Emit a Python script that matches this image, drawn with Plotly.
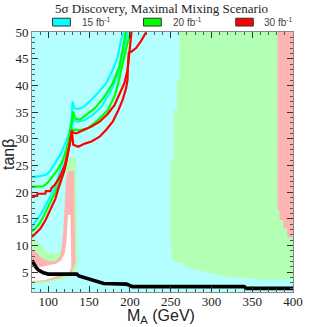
import plotly.graph_objects as go

# ---------------- data ----------------
# discovery contours (M_A in GeV, tan beta)
cyan1_m = [80, 90.3, 97.6, 102.4, 108.5, 115.7, 121.8, 126.2, 128.2, 129.3, 129.9, 131.8, 136.7, 142.7, 150.8, 160.9, 171, 179, 185.1, 189.2, 193.2]
cyan1_t = [22.8, 23.0, 23.3, 24.0, 25.5, 27.3, 29.5, 31.4, 33.2, 35.5, 37.0, 35.7, 35.6, 35.9, 37.0, 38.6, 40.4, 42.9, 45.4, 48.6, 50.0]
cyan2_m = [80, 84.2, 90.3, 96.3, 102.4, 108.5, 112.4, 116.6, 120.6, 124.2, 127.5, 129.0, 130.6, 136.7, 144.8, 154.8, 165, 175, 183.1, 189.2, 193.2, 197.5]
cyan2_t = [13.4, 14.5, 15.7, 17.3, 19.2, 21.0, 22.9, 24.8, 26.7, 28.9, 30.7, 32.3, 33.5, 33.2, 33.5, 34.5, 36.0, 38.5, 41.1, 44.2, 47.3, 50.0]

green1_m = [80, 94, 100, 110.3, 116.3, 120.6, 124.2, 127.3, 129.2, 130.5, 132.7, 138.7, 146.8, 156.9, 169, 179, 187.1, 191.1, 195.3]
green1_t = [21.0, 21.1, 21.9, 24.0, 25.5, 27.2, 29.2, 31.6, 33.6, 35.1, 33.8, 33.6, 34.5, 35.7, 37.9, 40.4, 43.5, 46.7, 50.0]
green2_m = [80, 88.2, 94.3, 100.2, 106.3, 112.3, 117.3, 120.9, 123.8, 126.6, 128.2, 130.6, 138.7, 148.8, 160.9, 173, 181.1, 185.1, 189.2, 193.2, 197.2, 201]
green2_t = [12.6, 13.9, 15.5, 17.3, 19.3, 21.4, 23.2, 25.2, 27.2, 29.5, 31.3, 31.7, 31.6, 32.0, 33.5, 35.4, 37.9, 40.0, 42.8, 45.5, 48.0, 50.0]

red1_m = [80, 86.3, 86.8, 96.3, 97.0, 102.4, 104, 108, 112.1, 116.1, 120.2, 123.3, 126.2, 128.2, 129.1, 130.2, 134.2, 142.7, 152.9, 162.9, 173, 181.1, 187.1, 193.2, 197.2, 199.5, 202]
red1_t = [19.3, 19.3, 19.7, 19.7, 20.2, 20.2, 20.8, 21.4, 22.3, 23.5, 25.1, 27.0, 28.9, 30.7, 31.3, 31.2, 31.0, 31.6, 32.3, 33.2, 34.7, 36.3, 38.2, 40.4, 42.9, 46.0, 50.0]
red2_m = [80, 85, 90.3, 96.3, 102.4, 108.5, 112.4, 116.6, 119.7, 122.6, 124.6, 126.6, 128.2, 128.7, 129.4, 130.6, 136.7, 144.8, 152.9, 162.9, 171, 179, 185.1, 191.1, 195.3, 197.2, 197.4, 198, 198.6, 201.6, 207.6, 213.6, 219.7]
red2_t = [11.6, 12.3, 13.2, 14.7, 16.6, 18.7, 20.7, 22.6, 24.0, 26.0, 27.5, 29.3, 30.8, 31.6, 30.0, 28.9, 28.5, 29.1, 29.5, 30.4, 31.7, 33.2, 35.1, 37.3, 39.4, 41.1, 42.9, 44.6, 46.1, 46.3, 47.0, 48.3, 49.9]

# LEP-type exclusion (black line)
lep_m = [80, 82, 84.5, 88, 94, 100, 135, 137.5, 143.5, 150, 156, 162, 168, 196, 200, 203, 340, 343, 400]
lep_t = [7.2, 6.6, 6.0, 5.4, 4.9, 4.65, 4.65, 4.3, 4.0, 3.65, 3.4, 3.2, 2.9, 2.78, 2.6, 2.3, 2.3, 1.97, 1.97]

# filled regions: 20 fb-1 (green) and 30 fb-1 (pink) needed, white = not reached
greenR_m = [261, 261, 257.5, 257.5, 253.7, 253.7, 250, 250, 251.5, 254, 260, 266, 268.3, 275.5, 284, 300, 320, 357, 359, 381, 393, 400, 400]
greenR_t = [50, 41, 41, 35.4, 35.4, 26, 26, 11, 8, 7, 6.8, 6.6, 6.0, 5.7, 5.4, 4.8, 4.1, 3.8, 3.5, 3.5, 3.6, 3.8, 50]
pinkR_m = [381, 381, 383.5, 383.5, 388.5, 388.5, 393, 393, 400, 400]
pinkR_t = [50, 16.6, 16.6, 14.8, 14.8, 13.2, 13.2, 11.5, 11.5, 50]

greenL_m = [80, 85.4, 90.3, 96.3, 104.8, 112.1, 116.9, 119.3, 120.5, 121.2, 121.8, 123, 126.6, 131.5, 133.9, 134.5, 135.7, 136.3, 133.9, 120.6, 102.4, 90.3, 80]
greenL_t = [11.41, 11.03, 10.09, 9.15, 8.4, 8.59, 9.53, 11.41, 14.78, 19.47, 24.16, 26.04, 26.6, 26.6, 25.67, 18.54, 11.03, 6.9, 5.03, 3.71, 3.15, 2.78, 2.78]
pinkL_m = [80, 85.8, 89.9, 96, 104, 110, 114.1, 116.1, 118.1, 119.3, 120.2, 121.8, 124.2, 131.5, 132.1, 132.7, 133.3, 129, 114.5, 96.3, 80]
pinkL_t = [9.15, 8.65, 7.9, 7.28, 6.96, 7.15, 7.9, 9.15, 12.34, 16.1, 18.54, 22.29, 23.98, 23.98, 16.66, 10.09, 6.9, 5.03, 3.9, 3.34, 3.15]
whiteL_m = [80, 91.9, 102, 110, 116.1, 120.2, 122.1, 123, 124.2, 127.2, 128.2, 128.2, 126.2, 114.5, 96.3, 80]
whiteL_t = [5.97, 6.02, 6.34, 6.66, 7.28, 8.54, 10.41, 12.91, 15.72, 15.72, 9.15, 6.02, 5.08, 4.46, 3.53, 3.34]

x_ticks = [100, 150, 200, 250, 300, 350, 400]
y_ticks = [5, 10, 15, 20, 25, 30, 35, 40, 45, 50]
legend_labels = ["15 fb<sup>-1</sup>", "20 fb<sup>-1</sup>", "30 fb<sup>-1</sup>"]

# ---------------- styles ----------------
BG_CYAN = "#b3ffff"
FILL_GREEN = "#b3ffb3"
FILL_PINK = "#ffb3b3"
C_CYAN, C_GREEN, C_RED = "#00ffff", "#00ff00", "#ff0000"

fig = go.Figure()

def region(m, t, color):
    fig.add_trace(go.Scatter(x=m, y=t, mode="lines", fill="toself", fillcolor=color,
                             line=dict(width=0, color=color), hoverinfo="skip", showlegend=False))

region(greenR_m, greenR_t, FILL_GREEN)
region(pinkR_m, pinkR_t, FILL_PINK)
region(greenL_m, greenL_t, FILL_GREEN)
region(pinkL_m, pinkL_t, FILL_PINK)
region(whiteL_m, whiteL_t, "#ffffff")

def line(m, t, color, w=2.2):
    fig.add_trace(go.Scatter(x=m, y=t, mode="lines", line=dict(color=color, width=w),
                             hoverinfo="skip", showlegend=False))

line(cyan1_m, cyan1_t, C_CYAN)
line(cyan2_m, cyan2_t, C_CYAN)
line(green1_m, green1_t, C_GREEN)
line(green2_m, green2_t, C_GREEN)
line(red1_m, red1_t, C_RED)
line(red2_m, red2_t, C_RED)
line(lep_m, lep_t, "#000000", w=3.6)

serif = "Liberation Serif, Times New Roman, serif"
sans = "Liberation Sans, Arial, sans-serif"

fig.update_layout(
    width=315, height=327,
    margin=dict(l=32, r=20, t=32, b=35),
    paper_bgcolor="white", plot_bgcolor=BG_CYAN,
    hovermode=False, showlegend=False,
    xaxis=dict(range=[80, 400], tickvals=x_ticks, ticks="inside", ticklen=6, tickcolor="#333",
               showline=True, linecolor="#888", linewidth=1, mirror="ticks", showgrid=False,
               zeroline=False, tickfont=dict(family=serif, size=13, color="#222"),
               ticklabelstandoff=-3,
               minor=dict(dtick=10, tick0=80, ticks="inside", ticklen=3, tickcolor="#555", showgrid=False)),
    yaxis=dict(range=[1.3, 50], tickvals=y_ticks, ticks="inside", ticklen=6, tickcolor="#333",
               showline=True, linecolor="#888", linewidth=1, mirror="ticks", showgrid=False,
               zeroline=False, tickfont=dict(family=serif, size=13, color="#222"),
               minor=dict(dtick=1, tick0=0, ticks="inside", ticklen=3, tickcolor="#555", showgrid=False)),
)

ann = []
ann.append(dict(text="5σ Discovery, Maximal Mixing Scenario", xref="paper", yref="paper",
                x=0.498, y=1.092, xanchor="center", yanchor="middle", showarrow=False,
                font=dict(family=serif, size=13, color="#222")))
ann.append(dict(text="M<sub>A</sub> (GeV)", xref="paper", yref="paper", x=0.494, y=-0.093,
                xanchor="center", yanchor="middle", showarrow=False,
                font=dict(family=sans, size=16, color="#222")))
ann.append(dict(text="tanβ", xref="paper", yref="paper", x=-0.088, y=0.527, textangle=-90,
                xanchor="center", yanchor="middle", showarrow=False,
                font=dict(family=sans, size=16, color="#222")))

box_x = [(0.0787, 0.1471), (0.4270, 0.4954), (0.7806, 0.8479)]
txt_x = [0.1825, 0.5323, 0.8821]
shapes = []
for (x0, x1), tx, col, lab in zip(box_x, txt_x, [C_CYAN, C_GREEN, C_RED], legend_labels):
    shapes.append(dict(type="rect", xref="paper", yref="paper", x0=x0, x1=x1, y0=1.023, y1=1.053,
                       fillcolor=col, line=dict(color="#333", width=1)))
    ann.append(dict(text=lab, xref="paper", yref="paper", x=tx, y=1.038, xanchor="left",
                    yanchor="middle", showarrow=False, font=dict(family=sans, size=10, color="#444")))

fig.update_layout(annotations=ann, shapes=shapes)
fig.write_html("out.html", config={"displayModeBar": False, "staticPlot": True},
               post_script="document.body.style.margin='0px';document.body.style.padding='0px';")
